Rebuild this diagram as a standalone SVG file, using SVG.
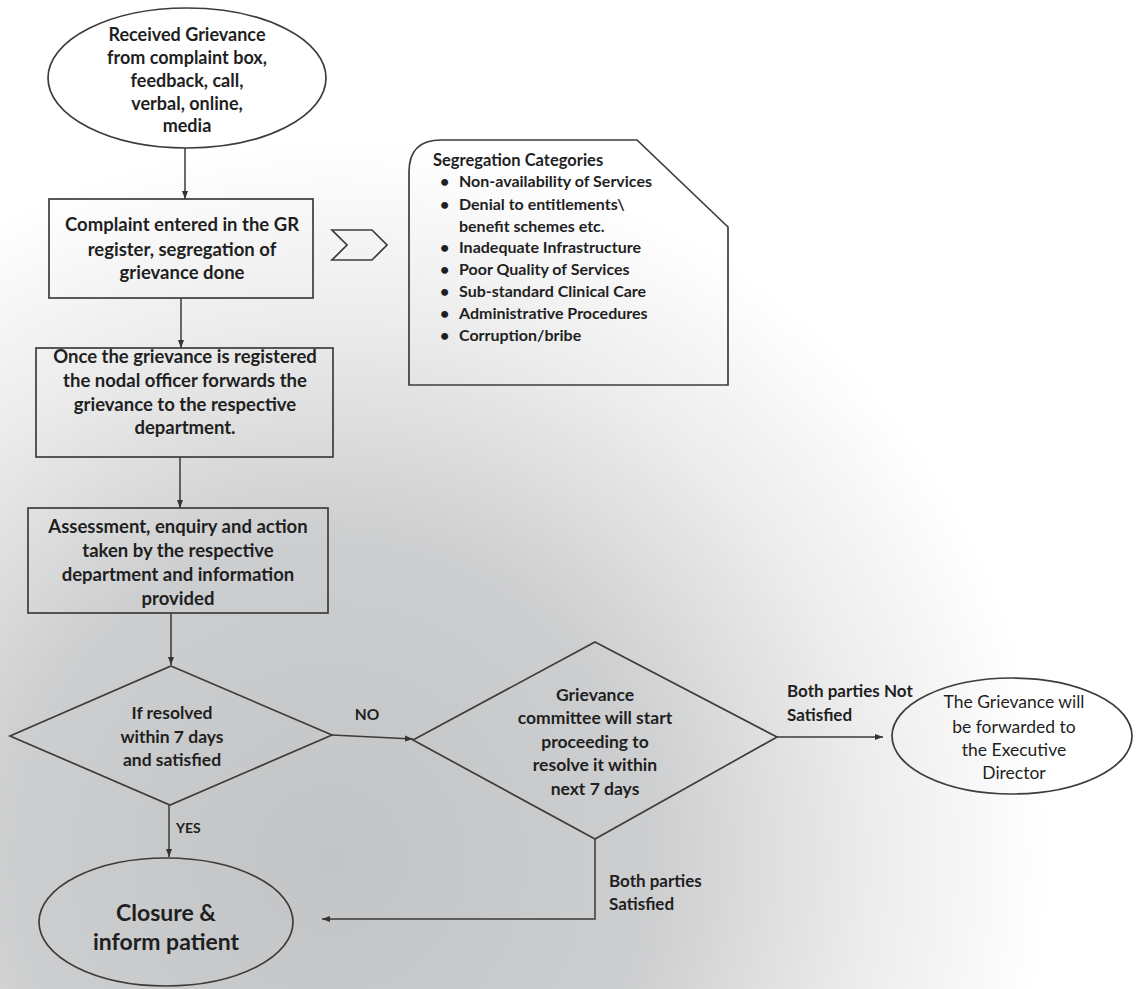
<svg xmlns="http://www.w3.org/2000/svg" width="1137" height="989" viewBox="0 0 1137 989">
<defs>
<radialGradient id="bg" cx="330" cy="860" r="720" gradientUnits="userSpaceOnUse">
<stop offset="0" stop-color="#c3c4c6"/>
<stop offset="0.45" stop-color="#cdcecf"/>
<stop offset="0.75" stop-color="#ececec"/>
<stop offset="1" stop-color="#ffffff"/>
</radialGradient>
<marker id="ah" markerWidth="9" markerHeight="7" refX="8" refY="3.5" orient="auto" markerUnits="userSpaceOnUse">
<path d="M0,0.5 L8,3.5 L0,6.5 z" fill="#333"/>
</marker>
<style>
.shape{fill:none;stroke:#3c3c3c;stroke-width:1.7}
.conn{fill:none;stroke:#3a3a3a;stroke-width:1.5;marker-end:url(#ah)}
.t{font-family:Lato,"Liberation Sans",sans-serif;font-weight:700;fill:#1f1f1f;text-anchor:middle}
.r{font-weight:400}
.l{text-anchor:start}
</style>
</defs>
<rect x="0" y="0" width="1137" height="989" fill="url(#bg)"/>

<g id="received">
<ellipse class="shape" cx="187" cy="78" rx="139" ry="70"/>
<text class="t" font-size="18" x="187" y="41">Received Grievance</text>
<text class="t" font-size="18" x="187" y="64">from complaint box,</text>
<text class="t" font-size="18" x="187" y="87">feedback, call,</text>
<text class="t" font-size="18" x="187" y="110">verbal, online,</text>
<text class="t" font-size="18" x="187" y="132">media</text>
</g>

<g id="complaint-entered">
<rect class="shape" x="49" y="199" width="264" height="99"/>
<text class="t" font-size="18.5" x="182" y="231">Complaint entered in the GR</text>
<text class="t" font-size="18.5" x="182" y="256">register, segregation of</text>
<text class="t" font-size="18.5" x="182" y="279">grievance done</text>
</g>

<g id="chevron">
<polygon class="shape" points="332,230 372,230 387,245 372,260 332,260 347,245"/>
</g>

<g id="segregation">
<path class="shape" d="M409,385 L409,172 Q409,140 441,140 L637,140 L728,227 L728,385 Z"/>
<text class="t l" font-size="16.5" x="433" y="166">Segregation Categories</text>
<g class="t l" font-size="16">
<text x="440" y="187">•</text><text x="459" y="187">Non-availability of Services</text>
<text x="440" y="210">•</text><text x="459" y="210">Denial to entitlements\</text>
<text x="459" y="232">benefit schemes etc.</text>
<text x="440" y="253">•</text><text x="459" y="253">Inadequate Infrastructure</text>
<text x="440" y="275">•</text><text x="459" y="275">Poor Quality of Services</text>
<text x="440" y="297">•</text><text x="459" y="297">Sub-standard Clinical Care</text>
<text x="440" y="319">•</text><text x="459" y="319">Administrative Procedures</text>
<text x="440" y="341">•</text><text x="459" y="341">Corruption/bribe</text>
</g>
</g>

<g id="forward">
<rect class="shape" x="36" y="348" width="297" height="109"/>
<text class="t" font-size="18.5" x="185" y="363">Once the grievance is registered</text>
<text class="t" font-size="18.5" x="185" y="387">the nodal officer forwards the</text>
<text class="t" font-size="18.5" x="185" y="411">grievance to the respective</text>
<text class="t" font-size="18.5" x="185" y="434">department.</text>
</g>

<g id="assessment">
<rect class="shape" x="28" y="508" width="300" height="105"/>
<text class="t" font-size="18.5" x="178" y="533">Assessment, enquiry and action</text>
<text class="t" font-size="18.5" x="178" y="557">taken by the respective</text>
<text class="t" font-size="18.5" x="178" y="581">department and information</text>
<text class="t" font-size="18.5" x="178" y="605">provided</text>
</g>

<g id="resolved">
<polygon class="shape" points="171,666 332,735 170,805 10,736"/>
<text class="t" font-size="17.5" x="172" y="719">If resolved</text>
<text class="t" font-size="17.5" x="172" y="743">within 7 days</text>
<text class="t" font-size="17.5" x="172" y="766">and satisfied</text>
</g>

<g id="committee">
<polygon class="shape" points="595,642 777,737 595,839 413,740"/>
<text class="t" font-size="17.5" x="595" y="701">Grievance</text>
<text class="t" font-size="17.5" x="595" y="724">committee will start</text>
<text class="t" font-size="17.5" x="595" y="748">proceeding to</text>
<text class="t" font-size="17.5" x="595" y="771">resolve  it within</text>
<text class="t" font-size="17.5" x="595" y="795">next 7 days</text>
</g>

<g id="executive">
<ellipse class="shape" cx="1012" cy="736" rx="120" ry="58"/>
<text class="t r" font-size="17.5" x="1014" y="708">The Grievance will</text>
<text class="t r" font-size="17.5" x="1014" y="733">be forwarded to</text>
<text class="t r" font-size="17.5" x="1014" y="756">the Executive</text>
<text class="t r" font-size="17.5" x="1014" y="779">Director</text>
</g>

<g id="closure">
<ellipse class="shape" cx="166" cy="922" rx="127" ry="64"/>
<text class="t" font-size="23" x="166" y="921">Closure &amp;</text>
<text class="t" font-size="23" x="166" y="950">inform patient</text>
</g>

<g id="connectors">
<line class="conn" x1="185" y1="148" x2="185" y2="199"/>
<line class="conn" x1="181" y1="298" x2="181" y2="348"/>
<line class="conn" x1="180" y1="457" x2="180" y2="508"/>
<line class="conn" x1="171" y1="613" x2="171" y2="665"/>
<line class="conn" x1="332" y1="735" x2="413" y2="739"/>
<line class="conn" x1="777" y1="737" x2="883" y2="737"/>
<line class="conn" x1="169" y1="805" x2="169" y2="857"/>
<polyline class="conn" points="595,839 595,919 322,919"/>
<text class="t" font-size="15.5" x="367" y="720">NO</text>
<text class="t l" font-size="14" x="176" y="833">YES</text>
<text class="t l" font-size="17" x="787" y="697">Both parties Not</text>
<text class="t l" font-size="17" x="787" y="721">Satisfied</text>
<text class="t l" font-size="17" x="609" y="887">Both parties</text>
<text class="t l" font-size="17" x="609" y="910">Satisfied</text>
</g>
</svg>
